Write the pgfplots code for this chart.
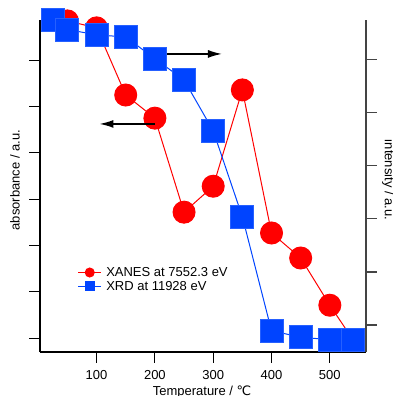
\documentclass[border=0pt]{standalone}
\usepackage{fontspec}
\setmainfont{Liberation Sans}
\newfontfamily\dejavu{DejaVu Sans}
\usepackage{pgfplots}
\pgfplotsset{compat=1.18}
\usetikzlibrary{arrows.meta}
\definecolor{xred}{RGB}{255,0,0}
\definecolor{xblue}{RGB}{0,68,255}
\definecolor{rgray}{RGB}{68,68,68}
\begin{document}
\begin{tikzpicture}
\path[use as bounding box] (-40pt,-44pt) rectangle (353pt,352pt);
\pgfplotsset{
  base/.style={
    at={(0pt,0pt)}, anchor=south west,
    scale only axis, width=326pt, height=332pt,
    xmin=3, xmax=562,
    clip=false,
    font=\fontsize{13}{15}\selectfont,
    /pgf/number format/assume math mode=true,
    major tick length=10.5pt,
    tick align=outside,
  }
}
\begin{axis}[base,
  ymin=-0.30, ymax=6.87,
  axis x line*=bottom, axis y line*=left,
  axis line style={line width=1.2pt, black, -},
  xtick={100,200,300,400,500},
  xticklabel style={yshift=-4.5pt},
  ytick={0,1,2,3,4,5,6}, yticklabels={},
  tick style={line width=1.2pt, black},
  xlabel={Temperature / {\dejavu ℃}},
  ylabel={absorbance / a.u.},
  every axis x label/.style={at={(axis description cs:0.497,-0.12)}, anchor=center},
  every axis y label/.style={at={(axis description cs:-0.077,0.518)}, anchor=center, rotate=90},
]
\addplot[xred, line width=1pt, mark=*, mark size=11pt, mark options={draw=xred, fill=xred}] coordinates {
(50,6.85) (100,6.70) (150,5.25) (200,4.75) (250,2.72) (300,3.28) (350,5.36) (400,2.27) (450,1.73) (500,0.71) (540,-0.04)
};
\end{axis}
\begin{axis}[base,
  ymin=-0.51, ymax=5.75,
  axis x line=none, axis y line*=right,
  axis line style={line width=1.2pt, rgray, -},
  xtick=\empty,
  ytick={0,1,2,3,4,5}, yticklabels={},
  tick style={line width=1.2pt, rgray},
  ylabel={intensity / a.u.},
  every axis y label/.style={at={(axis description cs:1.068,0.518)}, anchor=center, rotate=-90},
  legend style={at={(axis description cs:0.106,0.268)}, anchor=north west, draw=none, fill=none, font=\fontsize{13}{15}\selectfont, row sep=-0.6pt, nodes={inner xsep=4.5pt}},
  legend cell align=left,
  legend image code/.code={\draw[mark repeat=2,mark phase=2,#1] plot coordinates {(0pt,0pt) (11.5pt,0pt) (23pt,0pt)};},
]
\addplot[xblue, line width=1pt, mark=square*, mark size=11.5pt, mark options={draw=xblue!85!white, fill=xblue}, forget plot] coordinates {
(25,5.75) (50,5.57) (100,5.47) (150,5.43) (200,5.02) (250,4.62) (300,3.66) (350,2.04) (400,-0.11) (450,-0.23) (500,-0.28) (540,-0.28)
};
\addlegendimage{xred, line width=1pt, mark=*, mark size=4.5pt, mark options={fill=xred}}
\addlegendentry{XANES at 7552.3 eV}
\addlegendimage{xblue, line width=1pt, mark=square*, mark size=4.5pt, mark options={fill=xblue}}
\addlegendentry{XRD at 11928 eV}
\draw[line width=1.5pt, -{Latex[length=14pt, width=8pt]}] (axis cs:200,5.11) -- (axis cs:315,5.11);
\draw[line width=1.5pt, -{Latex[length=14pt, width=8pt]}] (axis cs:200,3.79) -- (axis cs:105,3.79);
\end{axis}
\end{tikzpicture}
\end{document}
